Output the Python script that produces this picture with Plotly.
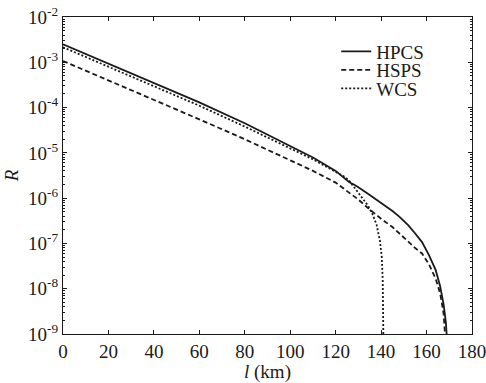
import plotly.graph_objects as go

# distance l (km) and ratio R
l_hpcs = [0, 20, 40, 60, 80, 100, 110, 120, 124, 126, 128, 130, 135, 140, 145, 148, 152, 155, 158, 161, 164, 166, 167.5, 168.5, 169, 169.5]
r_hpcs = [2.5e-3, 9.3e-4, 3.5e-4, 1.3e-4, 4.5e-5, 1.45e-5, 7.9e-6, 4.0e-6, 2.8e-6, 2.25e-6, 2.0e-6, 1.75e-6, 1.17e-6, 7.9e-7, 5.2e-7, 3.9e-7, 2.5e-7, 1.66e-7, 1.07e-7, 5.6e-8, 2.6e-8, 1.12e-8, 4.5e-9, 1.8e-9, 1.0e-9, 3e-10]

l_hsps = [0, 20, 40, 60, 80, 100, 110, 120, 126, 130, 135, 140, 145, 148, 152, 155, 158, 161, 164, 166, 167.5, 168.2, 168.8]
r_hsps = [1.07e-3, 4.0e-4, 1.48e-4, 5.5e-5, 2.0e-5, 6.8e-6, 4.0e-6, 2.2e-6, 1.32e-6, 9.3e-7, 5.6e-7, 3.5e-7, 2.3e-7, 1.66e-7, 1.1e-7, 7.9e-8, 6.0e-8, 3.5e-8, 1.66e-8, 7.9e-9, 2.8e-9, 1.0e-9, 3e-10]

l_wcs = [0, 20, 40, 60, 80, 100, 110, 120, 124, 126, 128, 131, 134, 136, 138, 139.5, 140.3, 140.7, 141, 141.1]
r_wcs = [2.15e-3, 7.9e-4, 2.95e-4, 1.1e-4, 3.8e-5, 1.26e-5, 7.2e-6, 3.8e-6, 2.95e-6, 2.4e-6, 1.78e-6, 1.17e-6, 7.1e-7, 4.7e-7, 2.6e-7, 1.12e-7, 5e-8, 1.6e-8, 1e-9, 3e-10]

series_names = ["HPCS", "HSPS", "WCS"]

y_tickvals = [1e-9, 1e-8, 1e-7, 1e-6, 1e-5, 1e-4, 1e-3, 1e-2]
y_ticktext = ["10<sup>-9</sup>", "10<sup>-8</sup>", "10<sup>-7</sup>", "10<sup>-6</sup>",
              "10<sup>-5</sup>", "10<sup>-4</sup>", "10<sup>-3</sup>", "10<sup>-2</sup>"]
x_tickvals = [0, 20, 40, 60, 80, 100, 120, 140, 160, 180]

FONT = "Liberation Serif, Times New Roman, serif"
INK = "#1a1a1a"
FS = 19

fig = go.Figure()
fig.add_trace(go.Scatter(x=l_hpcs, y=r_hpcs, mode="lines", name=series_names[0], legend="legend",
                         line=dict(color=INK, width=1.8, dash="solid")))
fig.add_trace(go.Scatter(x=l_hsps, y=r_hsps, mode="lines", name=series_names[1], legend="legend2",
                         line=dict(color=INK, width=1.8, dash="5px,3px")))
fig.add_trace(go.Scatter(x=l_wcs, y=r_wcs, mode="lines", name=series_names[2], legend="legend3",
                         line=dict(color=INK, width=1.8, dash="2px,2px")))

def leg(y):
    return dict(x=0.668, y=y, xanchor="left", yanchor="middle",
                bgcolor="rgba(0,0,0,0)", borderwidth=0,
                font=dict(family=FONT, size=FS, color=INK), itemwidth=30)

fig.update_layout(
    width=486, height=383,
    margin=dict(l=63, r=14, t=17, b=49),
    paper_bgcolor="white", plot_bgcolor="white",
    font=dict(family=FONT, size=FS, color=INK),
    showlegend=True,
    legend=leg(0.891), legend2=leg(0.833), legend3=leg(0.7745),
)
fig.update_xaxes(
    range=[0, 180], tickmode="array", tickvals=x_tickvals, automargin=False,
    ticklabeloverflow="allow",
    ticks="inside", ticklen=4, tickwidth=1, tickcolor=INK,
    showline=True, linecolor=INK, linewidth=1.2, mirror="ticks",
    showgrid=False, zeroline=False,
    tickfont=dict(family=FONT, size=FS, color=INK),
    title=dict(text="<i>l</i> (km)", font=dict(family=FONT, size=FS, color=INK), standoff=0),
)
fig.update_yaxes(
    type="log", range=[-9, -2], tickmode="array", tickvals=y_tickvals, ticktext=y_ticktext,
    automargin=False, ticklabeloverflow="allow",
    ticks="inside", ticklen=4, tickwidth=1, tickcolor=INK,
    minor=dict(ticks="inside", ticklen=2, dtick="D1", tickcolor=INK, showgrid=False),
    showline=True, linecolor=INK, linewidth=1.2, mirror="ticks",
    showgrid=False, zeroline=False,
    tickfont=dict(family=FONT, size=FS, color=INK),
    title=dict(text="<i>R</i>", font=dict(family=FONT, size=FS, color=INK), standoff=4),
)

fig.write_html(
    "out.html",
    config={"displayModeBar": False},
    post_script=("document.body.style.margin='0';"
                 "document.body.style.overflow='hidden';"
                 "document.documentElement.style.overflow='hidden';"),
)
